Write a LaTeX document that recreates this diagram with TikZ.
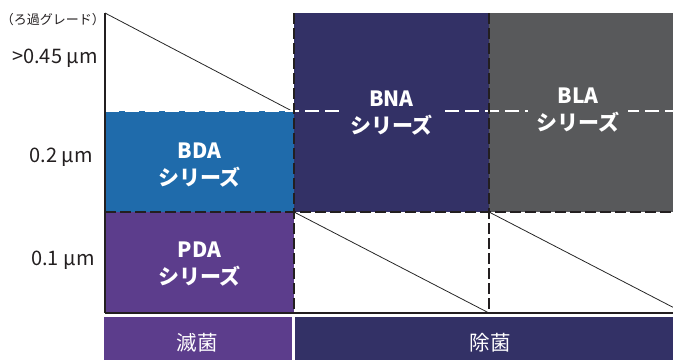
\documentclass[tikz,border=0pt]{standalone}
\usepackage{fontspec}
\setmainfont{Noto Sans CJK JP}
\definecolor{bdac}{HTML}{1F6BAB}
\definecolor{pdac}{HTML}{5C3D8C}
\definecolor{bnac}{HTML}{333166}
\definecolor{blac}{HTML}{58595B}
\definecolor{axtxt}{HTML}{231F20}
\definecolor{dashdark}{HTML}{231F20}
\begin{document}
\begin{tikzpicture}[x=1pt,y=-1pt,
  lbl/.style={text=white,font=\bfseries\fontsize{21}{27}\selectfont,align=center,inner xsep=9pt,inner ysep=2pt},
  axl/.style={text=axtxt,font=\fontsize{20}{22}\selectfont,inner sep=0pt},
  bar/.style={text=white,font=\fontsize{20.5}{24}\selectfont,inner sep=0pt},
  dk/.style={draw=dashdark,line width=1.3pt,dash pattern=on 11pt off 4pt},
  wd/.style={draw=white,line width=1.3pt,dash pattern=on 14pt off 6pt},
  diag/.style={draw=black!85,line width=0.8pt},
  axisline/.style={draw=dashdark,line width=1.3pt}]
\useasboundingbox (0,0) rectangle (673,360);
% boxes
\fill[bdac] (105,111) rectangle (294,212);
\fill[pdac] (105,212) rectangle (294,313);
\fill[bnac] (294,13) rectangle (489,212);
\fill[blac] (489,13) rectangle (673,212);
% coordinates
\coordinate (tl) at (105,13);
\coordinate (d1e) at (292,111);
\coordinate (d2s) at (294,212);
\coordinate (d2e) at (489,313);
\coordinate (d3s) at (489,212);
\coordinate (d3e) at (673,307.3);
% diagonals
\draw[diag] (tl) -- (d1e);
\draw[diag] (d2s) -- (d2e);
\draw[diag] (d3s) -- (d3e);
% dashed lines
\coordinate (w1a) at (105,111);
\coordinate (w1b) at (673,111);
\draw[wd] (w1a) -- (w1b);
\coordinate (h2a) at (105,212);
\coordinate (h2b) at (673,212);
\draw[dk] (h2a) -- (h2b);
\coordinate (v1a) at (294,13);
\coordinate (v1b) at (294,313);
\draw[dk] (v1a) -- (v1b);
\coordinate (v2a) at (489,13);
\coordinate (v2b) at (489,313);
\draw[dk] (v2a) -- (v2b);
% axes
\coordinate (bl) at (105,313);
\coordinate (br) at (673,313);
\draw[axisline] (tl) -- (bl);
\draw[axisline] (bl) -- (br);
% box labels
\node[lbl] (bda) at (199.5,165) {BDA\\シリーズ};
\node[lbl] (pda) at (199.5,264) {PDA\\シリーズ};
\node[lbl,fill=bnac] (bna) at (391.5,113) {BNA\\シリーズ};
\node[lbl,fill=blac] (bla) at (578,110.5) {BLA\\シリーズ};
% axis labels
\node[text=axtxt,font=\fontsize{13}{14}\selectfont,inner sep=0pt] (grade) at (53,20) {（ろ過グレード）};
\node[axl] (g045) at (55,58) {>0.45 µm};
\node[axl] (g02) at (61,157) {0.2 µm};
\node[axl] (g01) at (63,260) {0.1 µm};
% bottom bars
\fill[pdac] (104,317) rectangle (292,360);
\fill[bnac] (295,317) rectangle (673,360);
\node[bar] (mekkin) at (197,343) {滅菌};
\node[bar] (jokin) at (490,343) {除菌};
\end{tikzpicture}
\end{document}
